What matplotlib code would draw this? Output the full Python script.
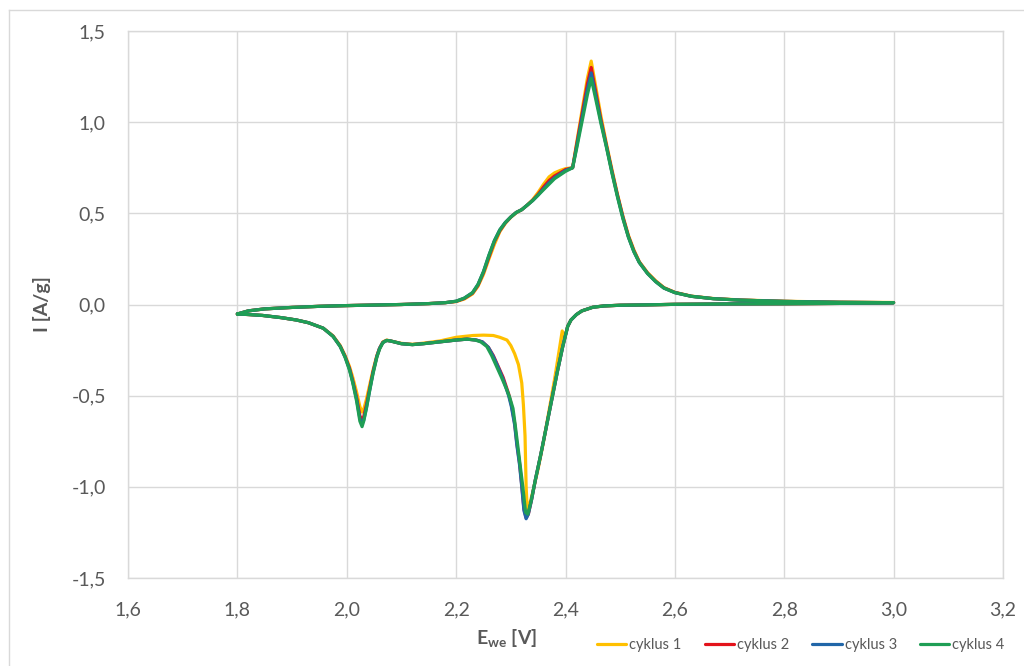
import matplotlib
matplotlib.use("Agg")
import matplotlib.pyplot as plt
from matplotlib.ticker import FuncFormatter, MultipleLocator
from matplotlib.lines import Line2D

plt.rcParams['font.family'] = ['Lato', 'DejaVu Sans']
plt.rcParams['mathtext.fontset'] = 'custom'
plt.rcParams['mathtext.rm'] = 'Lato'
plt.rcParams['mathtext.bf'] = 'Lato:bold'

# ---------------- data ----------------
labels = ["cyklus 1", "cyklus 2", "cyklus 3", "cyklus 4"]
colors = ["#FFC000", "#E3131B", "#2166A8", "#1F9E55"]

# anodic sweep (1.8 -> 3.0 V)
E_an = [1.80, 1.82, 1.85, 1.90, 1.95, 2.00, 2.05, 2.10, 2.15, 2.18, 2.20, 2.215,
        2.23, 2.24, 2.25, 2.26, 2.27, 2.28, 2.29, 2.30, 2.31, 2.32, 2.33, 2.34,
        2.35, 2.36, 2.37, 2.38, 2.39, 2.40, 2.413, 2.42, 2.43, 2.44, 2.447,
        2.455, 2.465, 2.475, 2.485, 2.495, 2.505, 2.515, 2.525, 2.535, 2.55,
        2.565, 2.58, 2.60, 2.63, 2.67, 2.72, 2.80, 2.90, 3.00]
I_an_1 = [-0.052, -0.035, -0.024, -0.016, -0.010, -0.006, -0.003, 0.000, 0.005, 0.010, 0.016, 0.030,
          0.058, 0.10, 0.165, 0.25, 0.33, 0.40, 0.445, 0.478, 0.503, 0.52, 0.545, 0.575,
          0.615, 0.66, 0.70, 0.722, 0.735, 0.745, 0.75, 0.88, 1.06, 1.24, 1.335,
          1.20, 1.03, 0.88, 0.74, 0.605, 0.485, 0.38, 0.30, 0.235, 0.175,
          0.13, 0.093, 0.067, 0.046, 0.033, 0.025, 0.018, 0.013, 0.011]
I_an_2 = [-0.052, -0.035, -0.024, -0.016, -0.010, -0.006, -0.003, 0.000, 0.005, 0.010, 0.017, 0.033,
          0.062, 0.105, 0.175, 0.26, 0.345, 0.405, 0.448, 0.48, 0.505, 0.52, 0.545, 0.572,
          0.605, 0.645, 0.68, 0.705, 0.722, 0.74, 0.75, 0.87, 1.04, 1.21, 1.30,
          1.17, 1.01, 0.87, 0.73, 0.60, 0.48, 0.375, 0.295, 0.232, 0.172,
          0.127, 0.091, 0.066, 0.045, 0.032, 0.024, 0.017, 0.012, 0.010]
I_an_3 = [-0.052, -0.035, -0.024, -0.016, -0.010, -0.006, -0.003, 0.000, 0.005, 0.010, 0.018, 0.035,
          0.065, 0.11, 0.18, 0.27, 0.35, 0.41, 0.45, 0.48, 0.505, 0.52, 0.545, 0.57,
          0.60, 0.635, 0.668, 0.695, 0.715, 0.735, 0.75, 0.86, 1.02, 1.18, 1.27,
          1.15, 1.00, 0.865, 0.725, 0.595, 0.475, 0.37, 0.29, 0.23, 0.17,
          0.125, 0.09, 0.065, 0.045, 0.032, 0.024, 0.017, 0.012, 0.010]
I_an_4 = [-0.052, -0.035, -0.024, -0.016, -0.010, -0.006, -0.003, 0.000, 0.005, 0.010, 0.018, 0.035,
          0.065, 0.11, 0.18, 0.27, 0.35, 0.41, 0.45, 0.48, 0.505, 0.52, 0.545, 0.57,
          0.60, 0.63, 0.66, 0.69, 0.71, 0.73, 0.75, 0.85, 1.00, 1.15, 1.24,
          1.13, 0.99, 0.86, 0.72, 0.59, 0.47, 0.37, 0.29, 0.23, 0.17,
          0.125, 0.09, 0.065, 0.045, 0.032, 0.024, 0.017, 0.012, 0.010]

# cathodic sweep (3.0 -> 1.8 V)
E_ca_1 = [3.00, 2.90, 2.80, 2.70, 2.60, 2.55, 2.50, 2.47, 2.45, 2.43, 2.42, 2.41,
          2.404, 2.398, 2.394, 2.388, 2.38, 2.37, 2.36, 2.35, 2.34, 2.334, 2.330,
          2.328, 2.326, 2.323, 2.320, 2.314, 2.307, 2.300, 2.293, 2.28, 2.268,
          2.25, 2.231, 2.215, 2.20, 2.17, 2.14, 2.12, 2.10, 2.08, 2.073, 2.066,
          2.060, 2.055, 2.048, 2.042, 2.036, 2.031, 2.028, 2.024, 2.018, 2.011,
          2.005, 1.997, 1.988, 1.975, 1.957, 1.93, 1.908, 1.88, 1.846, 1.82, 1.80]
I_ca_1 = [0.010, 0.006, 0.004, 0.003, 0.001, -0.002, -0.004, -0.008, -0.015, -0.035, -0.055, -0.085,
          -0.12, -0.19, -0.145, -0.26, -0.41, -0.58, -0.75, -0.90, -1.03, -1.10, -1.12,
          -1.00, -0.72, -0.55, -0.43, -0.33, -0.27, -0.225, -0.195, -0.18, -0.17,
          -0.168, -0.17, -0.175, -0.18, -0.20, -0.212, -0.218, -0.213, -0.20, -0.195, -0.205,
          -0.24, -0.28, -0.36, -0.44, -0.52, -0.575, -0.59, -0.56, -0.48, -0.40,
          -0.34, -0.28, -0.225, -0.172, -0.13, -0.10, -0.085, -0.072, -0.06, -0.055, -0.052]

E_ca_2 = [3.00, 2.90, 2.80, 2.70, 2.60, 2.55, 2.50, 2.47, 2.45, 2.43, 2.42, 2.41,
          2.404, 2.395, 2.385, 2.375, 2.365, 2.355, 2.345, 2.338, 2.332, 2.328,
          2.324, 2.320, 2.316, 2.311, 2.307, 2.301, 2.296, 2.286, 2.277, 2.268,
          2.259, 2.248, 2.237, 2.22, 2.20, 2.17, 2.14, 2.12, 2.10, 2.08, 2.073, 2.066,
          2.060, 2.055, 2.048, 2.042, 2.036, 2.031, 2.028, 2.024, 2.018, 2.011,
          2.005, 1.997, 1.988, 1.975, 1.957, 1.93, 1.908, 1.88, 1.846, 1.82, 1.80]
I_ca_2 = [0.010, 0.006, 0.004, 0.003, 0.001, -0.002, -0.004, -0.008, -0.015, -0.035, -0.055, -0.085,
          -0.12, -0.23, -0.37, -0.52, -0.67, -0.82, -0.96, -1.07, -1.15, -1.17,
          -1.12, -0.99, -0.87, -0.76, -0.65, -0.55, -0.49, -0.40, -0.34, -0.28,
          -0.235, -0.205, -0.195, -0.19, -0.195, -0.205, -0.215, -0.22, -0.215, -0.20, -0.197, -0.208,
          -0.24, -0.285, -0.37, -0.46, -0.55, -0.615, -0.635, -0.61, -0.51, -0.42,
          -0.35, -0.285, -0.228, -0.174, -0.13, -0.10, -0.085, -0.072, -0.06, -0.055, -0.052]
E_ca_3 = E_ca_2
I_ca_3 = [0.010, 0.006, 0.004, 0.003, 0.001, -0.002, -0.004, -0.008, -0.015, -0.035, -0.055, -0.085,
          -0.12, -0.23, -0.37, -0.52, -0.67, -0.82, -0.96, -1.07, -1.15, -1.175,
          -1.13, -1.00, -0.88, -0.77, -0.66, -0.56, -0.50, -0.41, -0.345, -0.285,
          -0.235, -0.205, -0.195, -0.19, -0.195, -0.205, -0.215, -0.22, -0.215, -0.20, -0.197, -0.208,
          -0.24, -0.285, -0.375, -0.47, -0.565, -0.635, -0.655, -0.625, -0.52, -0.425,
          -0.355, -0.288, -0.23, -0.175, -0.13, -0.10, -0.085, -0.072, -0.06, -0.055, -0.052]
E_ca_4 = [3.00, 2.90, 2.80, 2.70, 2.60, 2.55, 2.50, 2.47, 2.45, 2.43, 2.42, 2.41,
          2.404, 2.395, 2.385, 2.375, 2.365, 2.355, 2.345, 2.337, 2.331, 2.327,
          2.322, 2.317, 2.313, 2.308, 2.304, 2.298, 2.293, 2.283, 2.274, 2.265,
          2.256, 2.245, 2.235, 2.22, 2.20, 2.17, 2.14, 2.12, 2.10, 2.08, 2.073, 2.066,
          2.060, 2.055, 2.048, 2.042, 2.036, 2.031, 2.028, 2.024, 2.018, 2.011,
          2.005, 1.997, 1.988, 1.975, 1.957, 1.93, 1.908, 1.88, 1.846, 1.82, 1.80]
I_ca_4 = [0.010, 0.006, 0.004, 0.003, 0.001, -0.002, -0.004, -0.008, -0.015, -0.035, -0.055, -0.085,
          -0.12, -0.23, -0.37, -0.52, -0.67, -0.82, -0.96, -1.08, -1.15, -1.14,
          -1.00, -0.88, -0.78, -0.66, -0.57, -0.51, -0.47, -0.40, -0.34, -0.28,
          -0.23, -0.205, -0.195, -0.19, -0.195, -0.205, -0.215, -0.22, -0.215, -0.20, -0.197, -0.21,
          -0.245, -0.29, -0.38, -0.47, -0.57, -0.64, -0.67, -0.64, -0.53, -0.43,
          -0.36, -0.29, -0.23, -0.175, -0.13, -0.10, -0.085, -0.072, -0.06, -0.055, -0.052]

x_min, x_max, x_step = 1.6, 3.2, 0.2
y_min, y_max, y_step = -1.5, 1.5, 0.5

# ---------------- plotting ----------------
fig = plt.figure(figsize=(10.24, 6.66), dpi=100)
ax = fig.add_axes([128/1024, 1 - 578/666, (1003 - 128)/1024, (578 - 31)/666])

series = [
    (E_an, I_an_1, E_ca_1, I_ca_1),
    (E_an, I_an_2, E_ca_2, I_ca_2),
    (E_an, I_an_3, E_ca_3, I_ca_3),
    (E_an, I_an_4, E_ca_4, I_ca_4),
]
for (ea, ia, ec, ic), lab, col in zip(series, labels, colors):
    ax.plot(list(ea) + list(ec), list(ia) + list(ic), color=col, lw=2.3,
            label=lab, solid_joinstyle='round', solid_capstyle='round')

ax.set_xlim(x_min, x_max)
ax.set_ylim(y_min, y_max)
ax.xaxis.set_major_locator(MultipleLocator(x_step))
ax.yaxis.set_major_locator(MultipleLocator(y_step))
fmt = FuncFormatter(lambda v, p: f"{v:.1f}".replace('.', ',').replace('-0,0', '0,0'))
ax.xaxis.set_major_formatter(fmt)
ax.yaxis.set_major_formatter(fmt)

grid_col = "#D9D9D9"
ax.grid(True, color=grid_col, lw=1.0)
ax.set_axisbelow(True)
for s in ax.spines.values():
    s.set_color(grid_col)
    s.set_linewidth(1.0)
ax.tick_params(length=0, labelsize=14, colors="#595959")
ax.tick_params(axis='x', pad=17)
ax.tick_params(axis='y', pad=16)

ax.set_ylabel("I [A/g]", fontsize=14, fontweight='bold', color="#595959")
ax.yaxis.set_label_coords(-(128 - 51) / 875, 0.5)
ax.set_xlabel(r"$\mathbf{E}_{\mathbf{we}}$ [V]", fontsize=14, fontweight='bold',
              color="#595959")
ax.xaxis.set_label_coords((507 - 128) / 875, -(628 - 578) / 547)

leg = fig.legend(loc='center left', bbox_to_anchor=(584/1024, 1 - 645/666), ncol=4,
                 frameon=False, fontsize=10.5, handlelength=2.0, handletextpad=0.2,
                 columnspacing=1.6, labelcolor="#595959")

# outer chart-area border
fig.add_artist(Line2D([9/1024, 9/1024], [0, 1 - 10/666], color="#D9D9D9", lw=1.0,
                      transform=fig.transFigure))
fig.add_artist(Line2D([9/1024, 1], [1 - 10/666, 1 - 10/666], color="#D9D9D9", lw=1.0,
                      transform=fig.transFigure))

fig.savefig("out.png", dpi=100)
